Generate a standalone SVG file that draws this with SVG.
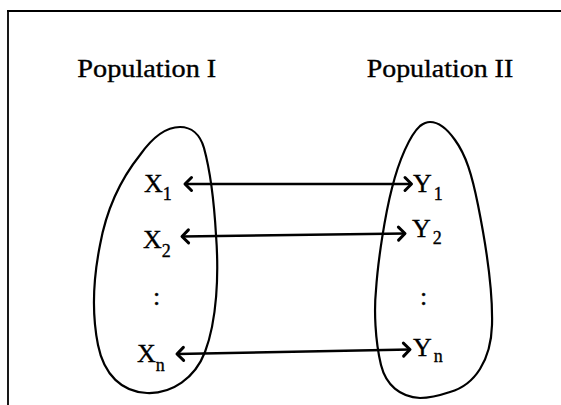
<svg xmlns="http://www.w3.org/2000/svg" width="561" height="405" viewBox="0 0 561 405">
<style>
  .frame{stroke:#000;stroke-width:1.8;fill:none}
  .blob{stroke:#000;stroke-width:2.2;fill:none}
  .conn{stroke:#000;stroke-width:2.6;fill:none}
  .t{font-family:"Liberation Serif","Times New Roman",serif;fill:#000;stroke:#000;stroke-width:0.35}
  .title{font-size:24.5px}
  .lab{font-size:26px}
  .sub{font-size:18px}
</style>
<defs>
  <marker id="ah" viewBox="-10 -9 13 18" refX="0" refY="0" markerWidth="13" markerHeight="18" markerUnits="userSpaceOnUse" orient="auto-start-reverse" overflow="visible">
    <path d="M-6.5,-6.5 L0,0 L-6.5,6.5" fill="none" stroke="#000" stroke-width="3" stroke-linecap="round" stroke-linejoin="round"/>
  </marker>
</defs>
<rect width="561" height="405" fill="#fff"/>
<path class="frame" d="M7,11 H561 M8,10 V405"/>

<g id="population1">
  <text class="t title" x="77.3" y="77" textLength="139" lengthAdjust="spacingAndGlyphs">Population I</text>
  <path class="blob" d="M180,127 C191,127 200,134 204,148 C210,170 214,200 216,235 C219,275 217,320 205,352 C195,378 172,394 147,393 C122,392 104,375 98,345 C92,315 93,280 100,245 C106,212 120,180 140,155 C152,138 166,127 180,127 Z"/>
</g>
<g id="population2">
  <text class="t title" x="366.7" y="77" textLength="146.5" lengthAdjust="spacingAndGlyphs">Population II</text>
  <path class="blob" d="M430,122 C440,122 448,130 455,140 C466,155 472,175 478,205 C486,245 493,290 492,325 C491,360 475,385 450,392 C438,396 428,398 420,398 C400,397 386,385 381,365 C375,340 374,310 376,290 C378,260 385,215 392,188 C399,160 410,135 420,126 C424,123 427,122 430,122 Z"/>
</g>

<g id="x1"><text class="t lab" x="144" y="192">X<tspan class="sub" dy="7.5">1</tspan></text></g>
<g id="x2"><text class="t lab" x="143" y="248">X<tspan class="sub" dy="8.5">2</tspan></text></g>
<g id="xdots"><text class="t lab" x="153" y="305">:</text></g>
<g id="xn"><text class="t lab" x="137" y="362">X<tspan class="sub" dy="8.5">n</tspan></text></g>

<g id="y1"><text class="t lab" x="413" y="192">Y<tspan class="sub" dy="7.5" dx="2">1</tspan></text></g>
<g id="y2"><text class="t lab" x="412" y="237">Y<tspan class="sub" dy="7" dx="2">2</tspan></text></g>
<g id="ydots"><text class="t lab" x="420" y="305">:</text></g>
<g id="yn"><text class="t lab" x="413" y="356">Y<tspan class="sub" dy="6" dx="2">n</tspan></text></g>

<g id="connectors">
  <line class="conn" x1="185" y1="184" x2="411.5" y2="184" marker-start="url(#ah)" marker-end="url(#ah)"/>
  <line class="conn" x1="182" y1="236.5" x2="405" y2="233.5" marker-start="url(#ah)" marker-end="url(#ah)"/>
  <line class="conn" x1="177" y1="354" x2="410" y2="349.5" marker-start="url(#ah)" marker-end="url(#ah)"/>
</g>
</svg>
